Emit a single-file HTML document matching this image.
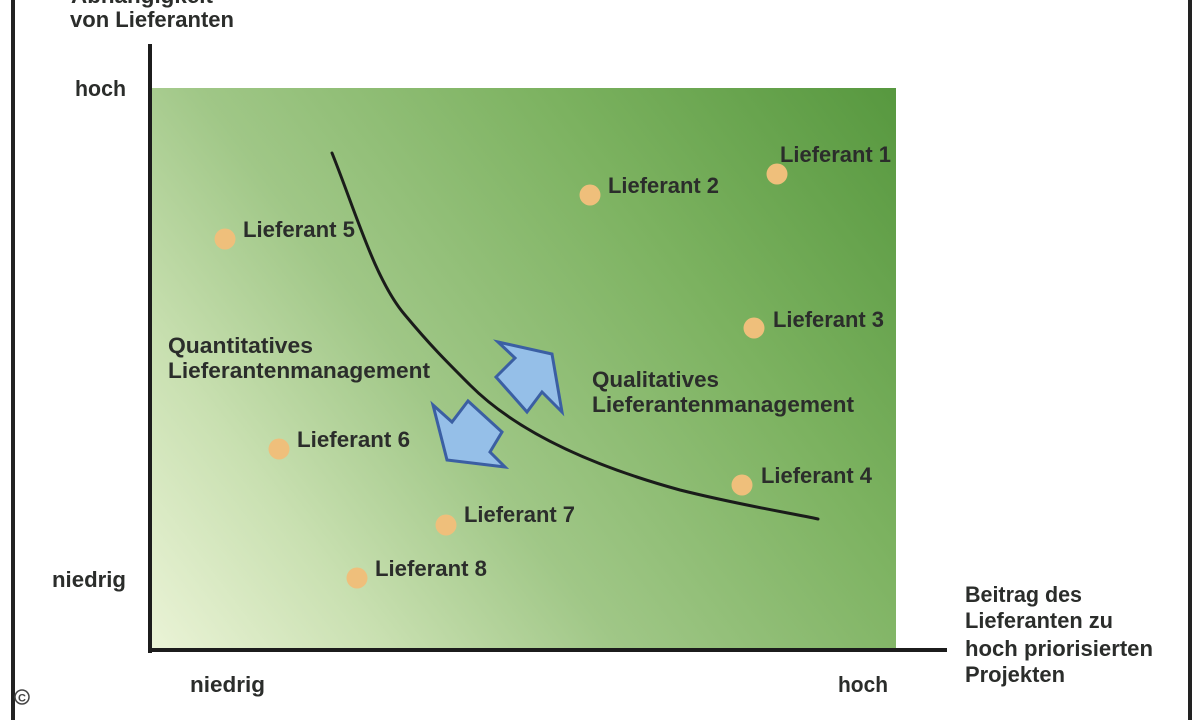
<!DOCTYPE html>
<html>
<head>
<meta charset="utf-8">
<style>
  html, body { margin: 0; padding: 0; background: #ffffff; }
  body { width: 1200px; height: 720px; overflow: hidden; }
  svg { display: block; }
  text { font-family: "Liberation Sans", "DejaVu Sans", sans-serif; font-weight: bold; fill: #2b2d2b; font-size: 22px; }
</style>
</head>
<body>
<svg width="1200" height="720" viewBox="0 0 1200 720" xmlns="http://www.w3.org/2000/svg">
  <defs>
    <linearGradient id="bg" gradientUnits="userSpaceOnUse" x1="152" y1="648" x2="896" y2="88">
      <stop offset="0" stop-color="#eaf3d6"/>
      <stop offset="0.2" stop-color="#c9e0b1"/>
      <stop offset="0.4" stop-color="#a0c787"/>
      <stop offset="0.7" stop-color="#7cb260"/>
      <stop offset="1" stop-color="#57983f"/>
    </linearGradient>
  </defs>

  <rect x="0" y="0" width="1200" height="720" fill="#ffffff"/>

  <!-- outer frame lines -->
  <rect x="11" y="0" width="4" height="720" fill="#222"/>
  <rect x="1188" y="0" width="4" height="720" fill="#222"/>

  <!-- green plot area -->
  <rect x="152" y="88" width="744" height="561" fill="url(#bg)"/>

  <!-- axes -->
  <rect x="148" y="44" width="4" height="609" fill="#1c1c1c"/>
  <rect x="148" y="648" width="799" height="4" fill="#1c1c1c"/>

  <!-- curve -->
  <path d="M332,153 C355,210 375,280 405,315 C430,345 445,360 470,385 C520,435 600,468 680,490 C740,505 790,513 818,519"
        fill="none" stroke="#1a1c1a" stroke-width="3" stroke-linecap="round"/>

  <!-- arrows -->
  <polygon points="498,342 552,354 562,412 542,392 527,412 496,377 515,358"
           fill="#95bfe8" stroke="#3b5fa3" stroke-width="3" stroke-linejoin="miter"/>
  <polygon points="433,405 452,422 468,401 502,432 490,452 505,467 447,460"
           fill="#95bfe8" stroke="#3b5fa3" stroke-width="3" stroke-linejoin="miter"/>

  <!-- dots -->
  <g fill="#efbf7b">
    <circle cx="777" cy="174" r="10.5"/>
    <circle cx="590" cy="195" r="10.5"/>
    <circle cx="754" cy="328" r="10.5"/>
    <circle cx="742" cy="485" r="10.5"/>
    <circle cx="225" cy="239" r="10.5"/>
    <circle cx="279" cy="449" r="10.5"/>
    <circle cx="446" cy="525" r="10.5"/>
    <circle cx="357" cy="578" r="10.5"/>
  </g>

  <!-- supplier labels -->
  <text x="780" y="162" textLength="111" lengthAdjust="spacingAndGlyphs">Lieferant 1</text>
  <text x="608" y="193" textLength="111" lengthAdjust="spacingAndGlyphs">Lieferant 2</text>
  <text x="773" y="327" textLength="111" lengthAdjust="spacingAndGlyphs">Lieferant 3</text>
  <text x="761" y="483" textLength="111" lengthAdjust="spacingAndGlyphs">Lieferant 4</text>
  <text x="243" y="237" textLength="112" lengthAdjust="spacingAndGlyphs">Lieferant 5</text>
  <text x="297" y="447" textLength="113" lengthAdjust="spacingAndGlyphs">Lieferant 6</text>
  <text x="464" y="522" textLength="111" lengthAdjust="spacingAndGlyphs">Lieferant 7</text>
  <text x="375" y="576" textLength="112" lengthAdjust="spacingAndGlyphs">Lieferant 8</text>

  <!-- region labels -->
  <text x="168" y="353" textLength="145" lengthAdjust="spacingAndGlyphs">Quantitatives</text>
  <text x="168" y="378" textLength="262" lengthAdjust="spacingAndGlyphs">Lieferantenmanagement</text>
  <text x="592" y="387" textLength="127" lengthAdjust="spacingAndGlyphs">Qualitatives</text>
  <text x="592" y="412" textLength="262" lengthAdjust="spacingAndGlyphs">Lieferantenmanagement</text>

  <!-- y-axis labels -->
  <text x="71" y="3" textLength="142" lengthAdjust="spacingAndGlyphs">Abhängigkeit</text>
  <text x="70" y="27" textLength="164" lengthAdjust="spacingAndGlyphs">von Lieferanten</text>
  <text x="75" y="96" textLength="51" lengthAdjust="spacingAndGlyphs">hoch</text>
  <text x="52" y="587" textLength="74" lengthAdjust="spacingAndGlyphs">niedrig</text>

  <!-- x-axis labels -->
  <text x="190" y="692" textLength="75" lengthAdjust="spacingAndGlyphs">niedrig</text>
  <text x="838" y="692" textLength="50" lengthAdjust="spacingAndGlyphs">hoch</text>
  <text x="965" y="602" textLength="117" lengthAdjust="spacingAndGlyphs">Beitrag des</text>
  <text x="965" y="628" textLength="148" lengthAdjust="spacingAndGlyphs">Lieferanten zu</text>
  <text x="965" y="656" textLength="188" lengthAdjust="spacingAndGlyphs">hoch priorisierten</text>
  <text x="965" y="682" textLength="100" lengthAdjust="spacingAndGlyphs">Projekten</text>

  <!-- copyright -->
  <circle cx="22" cy="697" r="7" fill="#ffffff" stroke="#444" stroke-width="1.5"/>
  <text x="22" y="701.5" text-anchor="middle" style="font-size:11px;fill:#444;">C</text>
</svg>
</body>
</html>
